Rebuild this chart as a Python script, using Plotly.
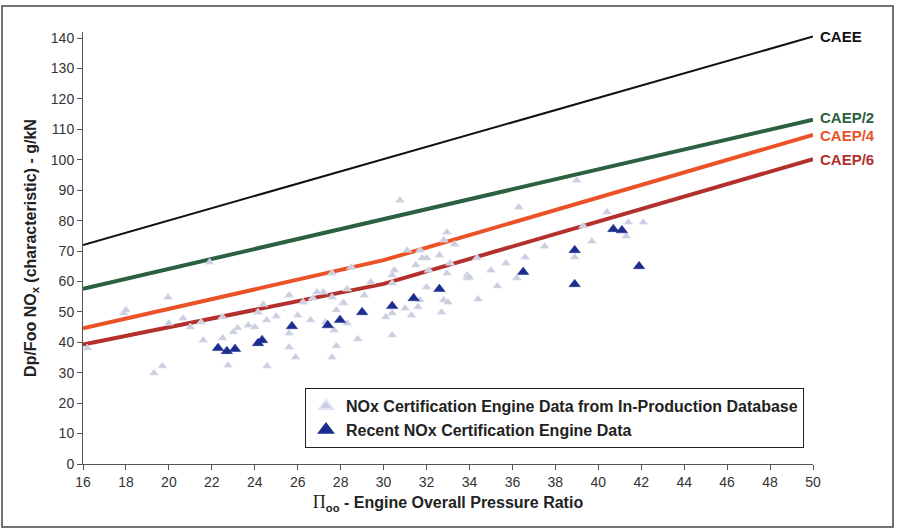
import plotly.graph_objects as go

# ---- Data ----
# Regulatory lines (x = overall pressure ratio, y = Dp/Foo NOx)
caee_x = [16, 50]
caee_y = [72, 140.5]
caep2_x = [16, 50]
caep2_y = [57.6, 113.2]
caep4_x = [16, 30, 50]
caep4_y = [44.6, 67.0, 108.2]
caep6_x = [16, 30, 50]
caep6_y = [39.3, 59.2, 100.2]

# In-production database engines (light triangles)
db_x = [16.2, 17.9, 18.0, 19.96, 20.0, 20.66, 21.0, 21.5, 21.6, 21.9, 19.3, 19.7,
        22.5, 22.5, 22.75, 23.0, 23.2, 23.7, 24.0, 24.15, 24.4, 24.55, 25.0, 24.57,
        25.6, 25.6, 26.0, 25.6, 25.9, 26.25, 26.6, 26.7, 26.9, 27.2, 27.3, 27.6,
        27.6, 27.7, 27.8, 27.6, 27.8, 28.1,
        30.76, 32.95, 33.3, 32.8, 31.1, 31.7, 31.8, 32.0, 31.5, 32.6, 33.1, 32.1,
        30.5, 30.4, 32.95, 28.5, 29.4, 30.4, 33.9, 33.9, 28.3, 29.1, 32.0, 28.15,
        31.0, 31.6, 31.7, 32.8, 33.0, 30.1, 30.4, 31.3, 32.7, 28.3, 28.8, 30.4, 34.4,
        39.0, 36.3, 40.4, 39.3, 41.4, 42.1, 41.3, 39.7, 37.5, 34.35, 36.6, 35.7,
        38.9, 35.0, 34.0, 36.2, 35.3]
db_y = [38.1, 49.6, 50.6, 54.8, 46.3, 47.9, 45.0, 46.6, 40.7, 66.3, 29.9, 32.2,
        48.3, 41.4, 32.5, 43.4, 44.7, 45.6, 45.0, 49.9, 52.5, 47.3, 48.6, 32.2,
        55.5, 43.0, 48.9, 38.4, 35.1, 53.2, 47.3, 54.5, 56.5, 56.5, 46.6, 54.8,
        62.7, 44.0, 38.8, 35.1, 50.6, 52.9,
        86.7, 76.2, 72.2, 73.6, 70.3, 70.3, 67.7, 67.7, 65.4, 68.6, 66.0, 63.7,
        63.7, 62.1, 62.7, 64.7, 59.8, 59.4, 62.1, 61.1, 57.5, 55.5, 58.1, 52.9,
        51.2, 51.6, 53.9, 53.9, 53.2, 48.3, 49.6, 48.9, 49.9, 46.3, 41.1, 42.4, 54.2,
        93.3, 84.4, 82.8, 78.2, 79.5, 79.5, 74.9, 73.2, 71.6, 67.7, 68.0, 66.0,
        68.0, 63.7, 61.4, 61.1, 58.5]

# Recent certification engines (dark triangles)
recent_x = [22.29, 22.7, 23.08, 24.15, 24.34, 25.73, 27.4, 27.97, 29.0, 30.4,
            31.4, 32.6, 36.5, 38.9, 38.9, 40.7, 41.1, 41.9]
recent_y = [38.1, 37.1, 37.8, 39.7, 40.7, 45.3, 45.6, 47.3, 49.9, 51.9,
            54.5, 57.5, 63.1, 70.3, 59.1, 77.2, 76.8, 65.0]

x_ticks = list(range(16, 51, 2))
y_ticks = list(range(0, 141, 10))

FONT = "Liberation Sans, Arial, sans-serif"

fig = go.Figure()

lines = [
    ("CAEE", caee_x, caee_y, "#111111", 2, 0),
    ("CAEP/2", caep2_x, caep2_y, "#2b6141", 4, 2),
    ("CAEP/4", caep4_x, caep4_y, "#ec5228", 4, -1),
    ("CAEP/6", caep6_x, caep6_y, "#b3302c", 4, 0),
]
for name, xs, ys, col, w, ys_shift in lines:
    fig.add_trace(go.Scatter(x=xs, y=ys, mode="lines", name=name,
                             line=dict(color=col, width=w), showlegend=False,
                             hoverinfo="skip"))
    fig.add_annotation(x=xs[-1], y=ys[-1], xref="x", yref="y", text="<b>%s</b>" % name,
                       showarrow=False, xanchor="left", yanchor="middle", xshift=5,
                       yshift=ys_shift,
                       font=dict(family=FONT, size=15, color=col))

fig.add_trace(go.Scatter(
    x=db_x, y=db_y, mode="markers",
    name="<b>NOx Certification Engine Data from In-Production Database</b>",
    marker=dict(symbol="triangle-up", size=8, color="#c9cee0",
                line=dict(color="#e2e5ef", width=0.6)),
))
fig.add_trace(go.Scatter(
    x=recent_x, y=recent_y, mode="markers",
    name="<b>Recent NOx Certification Engine Data</b>",
    marker=dict(symbol="triangle-up", size=10, color="#1d2d8e",
                line=dict(color="#1d2d8e", width=0.5)),
))

L, R, T, B = 83, 86, 32, 67
W, H = 899, 531
pw, ph = W - L - R, H - T - B

fig.update_layout(
    width=W, height=H,
    margin=dict(l=L, r=R, t=T, b=B),
    paper_bgcolor="white", plot_bgcolor="white",
    font=dict(family=FONT, size=14, color="#222222"),
    showlegend=True,
    legend=dict(x=(305 - L) / pw, y=(464 - 388) / (464 - T), xanchor="left", yanchor="top",
                bordercolor="#222222", borderwidth=1, bgcolor="white",
                font=dict(family=FONT, size=16, color="#222222"),
                tracegroupgap=0, itemsizing="constant"),
    xaxis=dict(range=[16, 50], tickmode="array", tickvals=x_ticks,
               ticktext=[str(v) for v in x_ticks],
               showgrid=False, zeroline=False, showline=True, linecolor="#555555",
               linewidth=1, ticks="outside", ticklen=5, tickcolor="#555555",
               tickfont=dict(size=14, color="#333333"),
               title=dict(text="<span style='font-family:Liberation Serif, serif; font-size:18px'>Π</span>"
                               "<b><sub>oo</sub> - Engine Overall Pressure Ratio</b>",
                          font=dict(size=16, color="#222222"), standoff=8)),
    yaxis=dict(range=[0, 142], tickmode="array", tickvals=y_ticks,
               ticktext=[str(v) for v in y_ticks],
               showgrid=False, zeroline=False, showline=True, linecolor="#555555",
               linewidth=1, ticks="outside", ticklen=5, tickcolor="#555555",
               tickfont=dict(size=14, color="#333333"),
               title=dict(text="<b>Dp/Foo NO<sub>x</sub> (characteristic) - g/kN</b>",
                          font=dict(size=16, color="#222222"), standoff=10)),
)

# outer frame around the whole chart
fig.add_shape(type="rect", xref="paper", yref="paper",
              x0=(2 - L) / pw, x1=(893 - L) / pw,
              y0=(H - B - 527) / ph, y1=(H - B - 6) / ph,
              line=dict(color="#444444", width=1.5), fillcolor="rgba(0,0,0,0)",
              layer="below")

fig.write_html("out.html")
